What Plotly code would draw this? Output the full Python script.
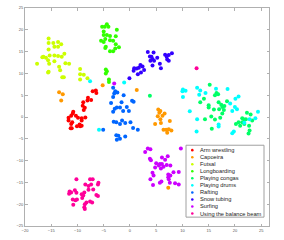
import plotly.graph_objects as go

categories = ["Arm wrestling", "Capoeira", "Futsal", "Longboarding", "Playing congas",
              "Playing drums", "Rafting", "Snow tubing", "Surfing", "Using the balance beam"]
colors = ["#ff0000", "#ff9900", "#ccff00", "#33ff00", "#00ff66",
          "#00ffff", "#0066ff", "#3300ff", "#cc00ff", "#ff0099"]

arm_x = [-7.1,-6.5,-6.4,-8.0,-8.1,-7.4,-8.9,-9.0,-8.6,-8.8,-10.8,-10.9,-10.3,-11.2,-11.7,-9.9,-9.2,-8.5,-9.2,-11.7,-11.2,-11.3,-10.1,-9.6,-9.5,-9.2,-11.0,-11.1]
arm_y = [5.9,6.1,5.5,4.4,3.8,3.9,3.4,2.6,2.1,1.6,1.2,0.8,0.3,0.3,-0.2,-0.2,-0.3,-0.1,-0.8,-0.8,-1.6,-2.6,-2.1,-1.7,-2.1,-2.0,-1.2,-2.6]

cap_x = [-13.5,-12.8,-13.1,-5.2,1.3,5.4,5.8,5.6,6.6,5.3,5.8,7.6,4.8,5.9,6.4,6.9,7.4,7.9,7.1,7.3,6.2]
cap_y = [5.7,5.2,3.8,7.3,6.2,1.7,1.4,1.0,0.8,0.2,-0.5,-0.9,-1.6,-1.4,-2.9,-2.9,-2.8,-3.1,-3.6,-16.2,0.3]

fut_x = [-15.5,-15.5,-14.6,-13.7,-13.1,-14.4,-13.7,-15.5,-12.5,-16.5,-16.7,-16.0,-15.3,-14.4,-13.7,-13.0,-15.6,-15.4,-17.7,-14.4,-13.5,-13.3,-15.5,-15.6,-12.3,-11.6,-12.9,-12.6,-9.5,-9.5,-8.8,-9.5,-8.1]
fut_y = [18.0,17.0,17.0,17.2,16.7,16.1,16.1,15.5,14.5,13.8,13.7,13.6,14.1,14.1,14.0,13.8,13.0,12.2,12.2,12.8,11.5,10.7,10.4,10.2,12.3,12.2,9.1,9.1,11.0,9.8,9.7,8.6,8.9]

lon_x = [-5.3,-4.8,-4.4,-4.1,-5.0,-2.5,-5.0,-4.4,-3.8,-2.7,-4.7,-5.5,-5.0,-3.8,-3.2,-2.7,-4.6,-4.7,-3.8,-3.2,-2.8,-2.1,-4.6,-4.6,-4.4,-4.0,-4.0]
lon_y = [20.7,20.7,21.3,20.7,19.6,20.0,18.8,18.8,18.6,18.5,17.9,17.5,17.2,17.6,17.5,16.7,16.1,15.8,15.1,15.1,15.7,16.0,10.9,10.0,10.5,8.6,8.0]

con_x = [15.2,16.5,16.2,16.8,14.1,13.4,16.9,17.4,17.6,18.0,15.0,15.0,16.0,17.0,17.9,18.5,17.6,17.2,15.5,14.3,16.2,22.3,23.0,21.4,21.8,15.6,20.2,20.7,21.4,21.8,21.0,22.1,22.7,22.8,22.6,23.3,3.8]
con_y = [7.4,5.5,5.0,5.2,4.2,3.4,3.4,2.8,2.3,2.5,2.7,2.2,1.7,1.8,1.6,3.6,0.8,-0.2,0.1,-0.5,-0.6,1.0,0.6,-0.3,-0.6,-2.7,-1.6,-1.2,-1.2,-1.6,-2.0,-0.5,-2.0,-3.1,-3.8,-0.8,4.9]

dru_x = [-7.6,-1.1,-5.9,10.1,10.0,10.6,10.1,12.8,13.4,14.4,13.2,16.4,18.6,20.7,20.1,19.1,20.0,20.4,19.5,11.4,24.4,23.9,22.8,12.8,16.9,16.9,19.5,19.8,12.7,21.8]
dru_y = [8.2,7.9,-2.9,6.3,5.9,6.0,4.6,6.7,6.1,5.5,5.1,6.5,6.4,4.7,4.2,3.1,2.3,1.8,1.4,1.3,1.2,-0.3,-0.5,-0.5,-1.7,-2.2,-3.7,-3.3,-3.3,-1.3]

raf_x = [-3.2,-2.8,-3.0,-1.2,-3.2,-3.6,-1.6,0.4,0.7,-2.5,-2.9,-1.9,-0.6,-1.3,-0.2,-3.2,-2.4,-3.1,-2.6,-1.9,-1.5,-0.9,0.1,0.6,1.5,-2.6,-2.2,-1.9,-0.9,-2.5,-5.1]
raf_y = [6.7,5.9,5.4,5.0,4.6,3.2,3.4,3.7,3.5,2.2,1.9,2.2,2.3,1.4,1.4,1.2,5.6,-1.1,-1.2,-1.6,-0.8,-1.4,-1.2,-2.5,-2.9,-4.2,-4.3,-5.0,-4.5,-5.2,-2.9]

sno_x = [3.4,4.5,4.1,3.8,4.3,5.2,3.9,4.6,5.7,6.7,7.0,7.4,8.0,7.1,7.4,5.9,2.0,2.4,2.7,1.7,1.3,0.7,2.1,1.5,-0.1,0.8,4.3]
sno_y = [14.9,14.8,13.8,13.9,13.3,13.6,12.9,12.9,12.2,14.3,13.8,14.2,14.6,13.2,12.9,11.2,11.9,11.6,10.8,11.3,11.1,10.6,10.2,9.8,8.9,11.2,11.8]

sur_x = [3.4,3.9,2.9,3.8,4.0,5.0,6.1,6.7,7.2,5.7,5.5,6.1,6.4,7.0,7.7,4.8,5.9,4.3,4.5,3.9,4.4,5.7,6.0,7.3,7.7,7.3,7.4,8.3,9.3,8.6,9.3,7.6,9.7,-3.0]
sur_y = [-7.2,-7.4,-8.0,-9.6,-9.9,-10.6,-9.3,-9.8,-9.0,-10.8,-11.1,-10.8,-11.4,-11.0,-11.1,-11.6,-11.8,-12.8,-13.4,-14.3,-15.6,-15.1,-14.8,-13.2,-13.4,-13.8,-14.3,-12.7,-12.6,-15.2,-15.5,-15.1,-7.2,7.7]

bal_x = [-10.2,-11.5,-11.2,-11.6,-10.5,-10.2,-10.9,-10.4,-10.1,-10.8,-9.2,-8.9,-9.1,-8.7,-8.5,-7.6,-7.1,-7.4,-7.9,-6.0,-6.1,-7.0,-7.9,-6.4,-6.1,-8.3,-7.6,-7.2,-8.6,-8.7,-8.6,12.7]
bal_y = [-14.3,-17.1,-17.3,-17.6,-16.8,-17.4,-18.9,-19.1,-18.9,-20.1,-17.7,-18.0,-18.6,-17.3,-15.5,-14.3,-14.3,-15.5,-15.8,-15.1,-15.5,-16.6,-16.7,-17.9,-18.1,-19.6,-19.4,-19.6,-20.0,-20.7,-21.1,11.2]

xs = [arm_x, cap_x, fut_x, lon_x, con_x, dru_x, raf_x, sno_x, sur_x, bal_x]
ys = [arm_y, cap_y, fut_y, lon_y, con_y, dru_y, raf_y, sno_y, sur_y, bal_y]

x_ticks = [-20, -15, -10, -5, 0, 5, 10, 15, 20, 25]
y_ticks = [-25, -20, -15, -10, -5, 0, 5, 10, 15, 20, 25]

fig = go.Figure()
for name, c, x, y in zip(categories, colors, xs, ys):
    fig.add_trace(go.Scatter(x=x, y=y, mode="markers", name=name,
                             marker=dict(color=c, size=4, line=dict(width=0)),
                             showlegend=False))

# manual compact legend (pixel -> paper conversion)
L, R, T, B = 25, 269, 4.7, 226
def px(p): return (p - L) / (R - L)
def py(p): return (B - p) / (B - T)

shapes = [dict(type="rect", xref="paper", yref="paper", x0=px(186), x1=px(264), y0=py(217), y1=py(144),
               line=dict(color="#a0a0a0", width=1), fillcolor="white", layer="above")]
annotations = []
for i, (name, c) in enumerate(zip(categories, colors)):
    yc = 149 + i * 7.15
    shapes.append(dict(type="circle", xref="paper", yref="paper", x0=px(191), x1=px(193.6),
                       y0=py(yc + 1.3), y1=py(yc - 1.3), fillcolor=c, line=dict(width=0), layer="above"))
    annotations.append(dict(xref="paper", yref="paper", x=px(197.5), y=py(yc), text=name, showarrow=False,
                            xanchor="left", yanchor="middle", font=dict(size=5.7, color="#222222",
                            family="Liberation Sans, Arial")))

axis_common = dict(showgrid=False, zeroline=False, showline=True, linecolor="#b0b0b0", linewidth=1,
                   mirror="ticks", ticks="inside", ticklen=2.5, tickcolor="#b0b0b0",
                   tickfont=dict(size=4, color="#555555", family="Liberation Sans, Arial"))
fig.update_layout(
    width=284, height=240,
    margin=dict(l=25, r=15, t=5, b=14),
    paper_bgcolor="white", plot_bgcolor="white",
    xaxis=dict(range=[-20, 26.5], tickvals=x_ticks, **axis_common),
    yaxis=dict(range=[-25, 25], tickvals=y_ticks, **axis_common),
    shapes=shapes, annotations=annotations,
)
fig.write_html("out.html", config={"displayModeBar": False},
               post_script="document.body.style.margin='0';document.body.style.padding='0';")
